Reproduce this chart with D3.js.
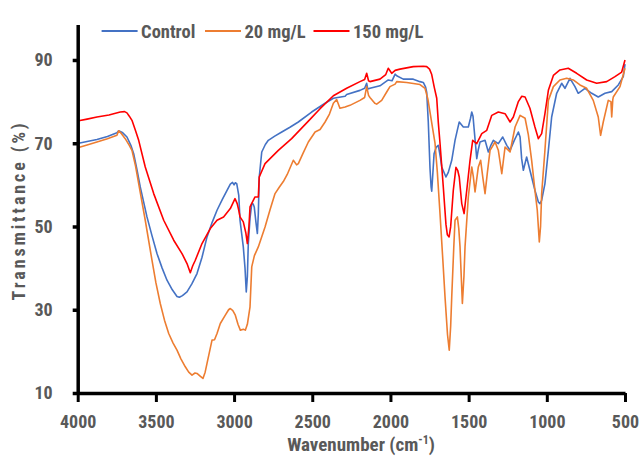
<!DOCTYPE html>
<html>
<head>
<meta charset="utf-8">
<script src="https://cdn.jsdelivr.net/npm/d3@7/dist/d3.min.js"></script>
<style>
  html, body { margin: 0; padding: 0; background: #fff; }
  svg { display: block; }
  text { font-family: "Liberation Sans Narrow", "Arial Narrow", "Roboto Condensed", sans-serif; font-weight: bold; fill: #595959; }
</style>
</head>
<body>
<svg id="chart" width="639" height="466"></svg>
<script>
// FTIR spectra: [wavenumber (cm-1), transmittance (%)]
const controlSpectrum = [
  [4000,69.8],[3994,70.0],[3940,70.4],[3877,70.9],[3810,71.6],[3749,72.5],[3738,73.0],[3715,72.6],
  [3685,71.5],[3660,69.5],[3642,67.5],[3620,63.5],[3600,59.5],[3557,52.3],[3525,47.8],[3493,43.5],
  [3460,40.0],[3429,37.1],[3395,34.8],[3365,33.2],[3350,33.0],[3330,33.4],[3301,34.3],[3270,36.2],
  [3237,38.7],[3205,42.6],[3173,47.5],[3140,51.0],[3109,53.9],[3075,56.5],[3045,58.7],[3024,60.2],
  [3010,60.6],[3000,60.0],[2992,60.5],[2983,60.3],[2970,57.5],[2962,51.5],[2941,45.1],[2930,40.0],
  [2922,34.3],[2915,38.0],[2909,45.9],[2898,52.0],[2887,55.5],[2878,55.4],[2871,54.7],[2860,51.0],
  [2851,48.3],[2845,53.0],[2839,61.9],[2823,67.9],[2800,69.7],[2781,70.7],[2740,71.7],[2695,72.7],
  [2640,73.9],[2589,75.1],[2504,77.5],[2418,79.6],[2365,80.8],[2290,81.3],[2280,81.7],[2195,82.7],
  [2165,83.2],[2152,84.4],[2145,83.0],[2131,83.2],[2067,83.8],[2014,85.2],[1990,85.0],[1970,86.6],
  [1960,86.2],[1918,85.4],[1854,85.4],[1811,84.8],[1790,84.6],[1775,83.5],[1768,82.2],[1758,75.1],
  [1747,64.0],[1740,59.5],[1736,58.5],[1730,62.0],[1721,67.5],[1708,69.0],[1694,69.5],[1680,66.5],
  [1672,64.3],[1645,61.9],[1630,63.0],[1608,65.9],[1587,70.7],[1570,73.5],[1560,75.1],[1534,73.9],
  [1502,73.9],[1488,76.0],[1480,77.5],[1472,76.5],[1466,73.9],[1448,66.3],[1438,68.5],[1427,70.3],
  [1395,70.7],[1374,67.9],[1358,69.5],[1342,70.7],[1310,69.9],[1282,71.5],[1256,69.5],[1235,68.3],
  [1208,70.7],[1182,72.7],[1171,71.5],[1161,66.3],[1150,63.5],[1129,66.7],[1108,63.5],[1076,58.7],
  [1054,55.9],[1044,55.5],[1033,56.3],[1012,60.3],[990,68.3],[969,76.3],[937,82.0],[905,84.4],
  [884,83.2],[852,85.6],[820,83.6],[799,82.0],[756,83.2],[713,82.0],[671,81.1],[628,82.0],
  [585,82.4],[543,84.0],[511,86.0],[500,89.0]
];

const dose20Spectrum = [
  [4000,68.8],[3994,69.0],[3940,69.6],[3877,70.3],[3810,71.1],[3749,71.9],[3738,73.0],[3720,72.3],
  [3696,71.1],[3670,69.5],[3653,68.3],[3630,64.5],[3610,60.3],[3568,51.5],[3525,41.9],[3500,36.5],
  [3472,31.5],[3445,27.5],[3418,24.3],[3390,22.0],[3365,20.3],[3340,18.2],[3312,16.3],[3290,15.0],
  [3269,14.3],[3250,14.8],[3237,14.7],[3215,14.0],[3199,13.5],[3185,15.0],[3173,17.1],[3141,22.7],
  [3125,22.8],[3109,24.3],[3088,26.7],[3056,28.7],[3035,30.0],[3024,30.3],[3008,29.8],[2992,28.7],
  [2975,26.5],[2960,25.1],[2940,25.3],[2928,25.1],[2915,26.5],[2898,30.7],[2887,40.3],[2870,43.0],
  [2845,45.1],[2802,49.9],[2770,54.0],[2738,57.9],[2710,59.5],[2685,60.8],[2660,62.5],[2621,65.9],
  [2600,64.8],[2589,65.1],[2560,67.5],[2525,70.3],[2482,72.7],[2450,73.3],[2418,75.1],[2390,77.0],
  [2365,79.6],[2344,80.5],[2323,78.4],[2290,78.7],[2259,79.1],[2195,80.3],[2165,81.0],[2152,83.6],
  [2140,81.5],[2131,81.0],[2100,79.6],[2088,79.4],[2056,80.3],[2024,82.3],[2003,83.6],[1970,84.2],
  [1960,84.8],[1896,84.6],[1811,84.1],[1779,83.2],[1760,80.5],[1747,77.5],[1730,73.5],[1715,70.0],
  [1700,63.0],[1683,53.1],[1665,42.0],[1651,33.1],[1635,24.0],[1624,20.3],[1615,26.0],[1608,33.1],
  [1595,45.0],[1587,51.5],[1572,52.3],[1563,49.5],[1555,45.1],[1540,31.5],[1530,38.0],[1523,45.1],
  [1502,57.1],[1480,64.3],[1470,62.0],[1459,58.3],[1438,64.3],[1423,65.9],[1410,62.0],[1395,57.9],
  [1380,63.0],[1363,68.3],[1331,70.3],[1310,68.3],[1288,62.7],[1267,69.1],[1235,67.9],[1203,73.9],
  [1171,76.7],[1139,76.0],[1118,72.0],[1097,65.9],[1076,58.7],[1061,53.9],[1048,46.3],[1040,50.0],
  [1033,57.9],[1012,68.3],[990,80.3],[958,83.6],[916,85.2],[873,85.6],[831,85.2],[788,84.0],
  [745,83.2],[703,80.3],[671,76.3],[656,71.9],[639,75.1],[607,80.3],[590,80.0],[585,76.3],
  [578,80.5],[575,81.1],[532,83.6],[500,88.0]
];

const dose150Spectrum = [
  [4000,75.2],[3994,75.4],[3940,75.8],[3877,76.3],[3800,76.8],[3728,77.5],[3700,77.6],[3685,77.3],
  [3670,76.5],[3653,75.5],[3630,73.0],[3610,70.7],[3568,64.3],[3514,57.9],[3450,51.5],[3386,46.7],
  [3333,43.5],[3301,41.1],[3280,38.9],[3265,40.5],[3248,41.9],[3205,45.9],[3152,49.5],[3109,51.5],
  [3067,52.3],[3024,54.3],[2994,56.7],[2980,55.5],[2970,53.9],[2962,52.3],[2941,51.1],[2925,48.5],
  [2915,45.9],[2905,50.0],[2898,54.7],[2866,57.1],[2845,57.1],[2839,61.9],[2802,65.1],[2717,68.3],
  [2632,71.1],[2525,75.3],[2450,78.3],[2365,81.4],[2280,83.2],[2195,84.8],[2165,85.3],[2152,86.8],
  [2140,85.0],[2131,84.8],[2067,85.4],[2030,86.5],[2014,88.0],[1992,86.8],[1970,87.5],[1939,87.8],
  [1854,88.4],[1790,88.5],[1768,88.4],[1750,87.8],[1736,86.5],[1720,83.5],[1704,80.8],[1694,75.0],
  [1683,70.0],[1662,59.5],[1645,50.5],[1636,48.0],[1625,47.5],[1615,49.9],[1598,58.7],[1581,64.2],
  [1570,63.5],[1560,61.9],[1544,55.5],[1529,53.1],[1512,58.7],[1491,65.9],[1474,70.7],[1448,69.9],
  [1416,72.3],[1384,73.1],[1352,76.7],[1310,77.5],[1267,77.1],[1235,75.1],[1214,76.3],[1182,80.0],
  [1160,81.3],[1139,81.1],[1108,78.4],[1076,73.9],[1054,71.1],[1033,72.3],[1012,77.1],[990,82.7],
  [958,86.3],[916,87.6],[863,88.0],[809,86.8],[745,85.2],[681,84.4],[617,84.8],[564,86.0],
  [521,87.1],[500,90.0]
];

const seriesNames = ["Control", "20 mg/L", "150 mg/L"];
const seriesColors = ["#4472C4", "#ED7D31", "#FF0000"];
const xTicks = [4000, 3500, 3000, 2500, 2000, 1500, 1000, 500];
const yTicks = [10, 30, 50, 70, 90];

const svg = d3.select("#chart");

const x = d3.scaleLinear().domain([4000, 500]).range([77.7, 625]);
const y = d3.scaleLinear().domain([10, 98.5]).range([393, 24.6]);

const line = d3.line()
  .x(d => x(d[0]))
  .y(d => y(d[1]));

// spectra (drawn first, axes on top)
const spectra = [controlSpectrum, dose20Spectrum, dose150Spectrum];
svg.append("g").selectAll("path")
  .data(spectra)
  .join("path")
  .attr("fill", "none")
  .attr("stroke", (d, i) => seriesColors[i])
  .attr("stroke-width", 1.6)
  .attr("stroke-linejoin", "round")
  .attr("d", line);

const plainNumber = d3.format("d");

// y axis
const yAxis = svg.append("g")
  .attr("transform", `translate(${x(4000)},0)`)
  .call(d3.axisLeft(y).tickValues(yTicks).tickFormat(plainNumber)
    .tickSize(5).tickSizeOuter(0).tickPadding(20));
yAxis.select(".domain").attr("stroke", "#000").attr("stroke-width", 3.5);
yAxis.selectAll(".tick line").attr("stroke", "#000").attr("stroke-width", 3.5);
yAxis.selectAll(".tick text").attr("font-size", 18).attr("fill", "#595959");

// x axis
const xAxis = svg.append("g")
  .attr("transform", `translate(0,${y(10)})`)
  .call(d3.axisBottom(x).tickValues(xTicks).tickFormat(plainNumber)
    .tickSize(9).tickSizeOuter(0).tickPadding(13));
xAxis.select(".domain").attr("stroke", "#000").attr("stroke-width", 3.5);
xAxis.selectAll(".tick line").attr("stroke", "#000").attr("stroke-width", 3);
xAxis.selectAll(".tick text").attr("font-size", 18).attr("fill", "#595959");
svg.selectAll(".tick text").attr("font-family", null);

// y axis title: letter-spaced, spanning about 177px
const yTitle = svg.append("text")
  .attr("transform", "translate(25,209) rotate(-90)")
  .attr("text-anchor", "middle")
  .attr("font-size", 18)
  .text("Transmittance (%)");
{
  const label = "Transmittance (%)";
  let natural = yTitle.node().getComputedTextLength();
  let fs = 18;
  if (natural > 150) { fs = 18 * 150 / natural; yTitle.attr("font-size", fs); natural = yTitle.node().getComputedTextLength(); }
  const spacing = Math.max(0, (177 - natural) / (label.length - 1));
  yTitle.attr("letter-spacing", spacing)
    .attr("transform", `translate(25,${209 + spacing / 2}) rotate(-90)`);
}

const xTitle = svg.append("text")
  .attr("x", 361)
  .attr("y", 451)
  .attr("text-anchor", "middle")
  .attr("font-size", 19);
xTitle.append("tspan").text("Wavenumber (cm");
xTitle.append("tspan").attr("dy", -7).attr("font-size", 12).text("-1");
xTitle.append("tspan").attr("dy", 7).text(")");

// legend
const legendX = [101.6, 205, 313.5];
const legend = svg.append("g").selectAll("g")
  .data(seriesNames)
  .join("g")
  .attr("transform", (d, i) => `translate(${legendX[i]},31)`);
legend.append("line")
  .attr("x1", 0).attr("x2", 36)
  .attr("stroke", (d, i) => seriesColors[i])
  .attr("stroke-width", 2.2);
legend.append("text")
  .attr("x", 39.5)
  .attr("y", 6.5)
  .attr("font-size", 18.5)
  .text(d => d);
</script>
</body>
</html>
